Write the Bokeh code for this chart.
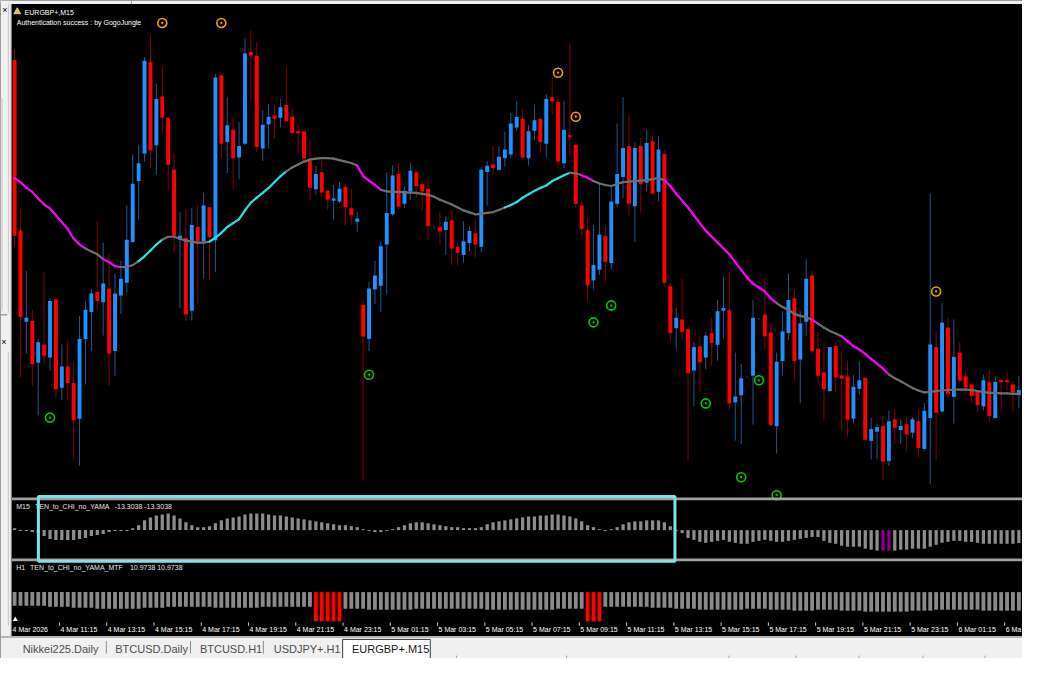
from bokeh.plotting import figure
from bokeh.models import Range1d, ColumnDataSource, Grid
from bokeh.core.properties import value
from bokeh.embed import file_html
from bokeh.resources import INLINE

# ---------------- data (EURGBP+ M15 candles, price in chart points) ----------------
open_ = [439, 264.3, 171, 171.7, 129, 147.7, 134.3, 193.7, 103.3, 125,
         108.3, 71.7, 153.3, 181, 201.7, 191, 205, 141, 197.7, 211,
         252.7, 315, 343.3, 436.7, 351.7, 401.7, 380, 326.7, 255, 256.7,
         182.3, 268.3, 253.3, 288.3, 254.3, 423.3, 355, 367.7, 339.3, 353.3,
         447.3, 443.3, 348.3, 373.3, 382.3, 380, 393, 381, 366, 366,
         335.7, 306.7, 324, 305, 295, 294, 309, 287.3, 273.3, 188.3,
         153.3, 204, 207.7, 250, 281, 322.3, 291.7, 304.3, 324, 311.7,
         307.3, 268, 268.3, 265, 275, 247.7, 239.3, 251.7, 261.7, 247.7,
         324.3, 332.3, 326.7, 338.3, 342.3, 370, 379, 338.3, 366.7, 379,
         353.3, 401, 396, 333.3, 362, 352.3, 290, 265, 213.3, 224.3,
         259, 231, 291.7, 319.3, 351, 289.3, 351, 313.3, 355.7, 304,
         342.7, 207.3, 164.3, 173.3, 163.3, 121, 145.7, 134.3, 159.3, 147.3,
         182.3, 182.7, 88.3, 95.7, 114, 115.7, 174, 178.3, 160, 64,
         130.7, 159.3, 195, 132.3, 171, 218.3, 143.3, 119, 100, 146,
         116, 115, 71.7, 102.3, 113.3, 49, 58.3, 64.3, 28.3, 71,
         60, 66, 57.3, 69, 40.7, 72.3, 145, 79, 165, 94,
         139.3, 115, 106.7, 100, 84.3, 109, 72.3, 111, 111, 106.7,
         95.7]
high = [450, 286, 223.3, 183.3, 153.3, 221.7, 195, 195, 147.7, 151.7,
        131, 176.7, 191.7, 205, 274.3, 251.7, 240, 220, 233.3, 290,
        342.3, 352.3, 441.7, 465, 415, 433.3, 380, 343.3, 283.3, 285.7,
        287.3, 290, 303.3, 288.3, 425, 425, 401, 381, 375.7, 461,
        469, 457.7, 387.7, 394.3, 392.3, 399, 432.3, 389, 374, 366,
        357.7, 330.7, 336.7, 305, 311, 314, 312.3, 306.7, 283.3, 193.3,
        211.7, 233.3, 252.3, 324, 331, 333.3, 309, 334, 325, 314.3,
        316.7, 269, 283.3, 279, 285.7, 252.3, 274, 268.3, 275, 329,
        335.7, 350.7, 350.7, 365.7, 385, 396.7, 389, 372.7, 392.7, 379,
        404, 420.7, 402.3, 397.3, 455.7, 352.3, 295, 276.7, 270, 312.3,
        270, 310, 374, 401, 382.3, 355, 359, 367.7, 362.3, 360.7,
        346.7, 211, 185, 215, 165, 150, 156.7, 160, 175, 193.3,
        216.7, 221.7, 139.3, 127.7, 115, 193.3, 175, 216.7, 168.3, 139.3,
        181.7, 220, 203.3, 181.7, 235.7, 223.3, 160, 150, 145, 150,
        141.7, 131, 116.7, 130, 114, 72.7, 65.7, 74, 80, 81,
        71, 72.7, 73.3, 81, 87.7, 302.3, 161.7, 190, 175, 173.3,
        150, 119.3, 108.3, 100, 116.7, 121.7, 115, 113.3, 119, 110,
        115]
low = [248, 114.3, 138.3, 105.7, 75, 127.7, 120.7, 93.3, 91, 90.7,
       30, 23.3, 106.7, 141, 183.3, 156.7, 105.7, 115.7, 179, 201,
       251.7, 275.7, 335, 328.3, 321.7, 365, 305, 241.7, 185, 171.7,
       172.3, 189, 215, 213.3, 221.7, 338.3, 323.3, 306.7, 316.7, 351.7,
       397.7, 345, 335.7, 348.3, 358.3, 370, 375, 361.7, 343.3, 337.7,
       296, 301, 297.7, 286, 275.7, 292.3, 269, 270, 263.3, 8.3,
       141, 189, 181, 199, 279, 285.7, 287.7, 295.7, 297.7, 285,
       254.3, 267, 250, 239.3, 229.3, 228.3, 231.7, 243.3, 236.7, 241.7,
       290, 321.7, 325.7, 330, 338.3, 366.7, 336.7, 331, 356.7, 345,
       339.3, 383.3, 328.3, 328.3, 340, 288.3, 259.3, 192.7, 204, 219,
       211, 224.3, 288.3, 297.7, 280, 252.7, 282.7, 304.3, 301.7, 294.3,
       206.7, 151, 142.7, 151, 29, 84.3, 99.3, 122.3, 125.7, 131,
       154, 80.7, 49.3, 45.7, 113, 65.7, 173, 142.7, 64, 35.7,
       115.7, 151.7, 111, 87.3, 156.7, 138.3, 108.3, 70.7, 99, 99,
       60, 53.3, 66.7, 96.7, 49, 30, 30, 8.3, 23.3, 45.7,
       45.7, 38.3, 51.7, 31.7, 38.3, 5, 29, 77.7, 93.3, 66.7,
       108.3, 97.7, 88.3, 78.3, 80, 68.3, 71.7, 79, 100, 79,
       82.3]
close = [259, 175.7, 175, 127.7, 150, 136, 192.3, 101.7, 125, 108.3,
         70, 153.3, 183.3, 200, 192.3, 210, 138.3, 200, 215, 255,
         312.3, 333.3, 438.3, 346.7, 399, 380, 331.7, 259, 259, 178.3,
         270, 253.3, 290, 257.7, 421, 353.3, 372.3, 338.3, 351, 445.7,
         444, 350, 372.7, 381, 379, 390.7, 376.3, 364.3, 364, 338.3,
         308.3, 322.3, 303.3, 296, 297.3, 307.3, 288.3, 280, 276.7, 155.7,
         205, 218.3, 248.3, 282.3, 320.7, 289, 305, 325.7, 310, 304.3,
         269, 268, 263.3, 273.3, 246, 241.7, 253.3, 264, 250, 326.7,
         330.7, 328.3, 340, 347.3, 374, 380.7, 339.3, 366, 377.3, 355,
         399, 396.7, 335, 367.7, 360, 291.7, 266, 208.3, 229, 260,
         232.3, 294, 322.3, 349, 291.7, 349, 311.7, 354, 302.3, 347.3,
         211, 159.3, 175, 160.7, 118.3, 145, 129.3, 156.7, 149.3, 181.7,
         185, 87.3, 94.3, 113, 114, 175, 174, 156, 65, 130,
         161, 193.3, 130.7, 169.3, 215, 141, 115.7, 101.7, 145, 114,
         112.7, 70.7, 104.3, 111, 50, 61, 63, 27.7, 69, 62.3,
         64.3, 55.7, 71, 41.7, 79.7, 147.7, 77.7, 170, 96.7, 135,
         110.7, 104, 95, 85.7, 111, 74.3, 109.3, 109, 109, 98.3,
         101]

# coloured moving average
ma = [318, 314, 308, 304, 297, 291, 287, 280, 273, 266,
      256, 250, 246, 243, 240, 235, 232, 228, 227, 227,
      229, 233, 238, 244, 250, 255, 258, 258, 256, 254,
      253, 252, 252, 253, 257, 262, 268, 272, 276, 285,
      293, 298, 303, 308, 314, 320, 325, 329, 332, 335,
      337, 338, 338.5, 338.5, 338, 336.5, 335, 333.5, 331, 320,
      315.5, 311, 306, 304.5, 304, 304, 303.5, 303.3, 303, 302,
      301, 299, 296, 293.5, 291, 288, 285, 283, 281, 281.5,
      282.5, 283.3, 285.5, 288, 290.5, 293.5, 298, 301.5, 305, 308,
      310.5, 315, 318, 321, 323.5, 323, 321, 318.5, 315, 312.5,
      311, 310, 312, 314, 314.5, 315, 315.5, 316, 317, 318,
      316, 310, 302, 295, 288, 280, 272, 264, 258, 252,
      246, 240, 232, 224, 216, 210, 206, 202, 195, 190,
      186, 183, 179, 177, 175.5, 173, 169, 165, 161.5, 159,
      156, 151, 146, 142.5, 138, 133, 128, 123, 117, 113,
      110, 106.5, 103, 100.5, 98.5, 99, 100, 100.5, 101, 101.5,
      101.5, 101.5, 101, 100, 99, 98, 98, 97.5, 97.5, 97,
      97]
# trend state runs of the MA colour: g = flat (grey), m = falling, c = rising
ma_state_runs = [("g", 1), ("m", 12), ("g", 3), ("m", 3), ("g", 3), ("c", 4), ("g", 8),
                 ("c", 13), ("g", 12), ("m", 4), ("g", 21), ("c", 11), ("g", 2), ("m", 2),
                 ("g", 12), ("m", 19), ("g", 6), ("m", 1), ("g", 4), ("m", 8), ("g", 22)]

# arrow signals (bar index, price)
sell_bars = [25, 35, 92, 95, 156]
sell_price = [477, 477, 426, 381, 202]
buy_bars = [6, 60, 98, 101, 117, 123, 126, 129]
buy_price = [72.7, 116.7, 170.3, 187.7, 87.3, 11.7, 111, -6.7]

# M15 TEN_to_CHI_no_YAMA histogram
osc = [2, -1, -1, -2, -3, -6, -9, -10, -10, -10,
       -10, -9, -8, -6, -5, -4, -2, -1, -1, -1,
       2, 5, 10, 13, 15, 16, 17, 15, 12, 8,
       5, 3, 3, 4, 7, 10, 12, 13, 14, 16,
       17, 17, 17, 16, 15, 15, 14, 13, 12, 11,
       10, 9, 8, 7, 6, 5, 5, 4, 3, 1,
       -1, -2, -2, -1, 1, 3, 5, 7, 8, 8,
       7, 6, 5, 4, 3, 3, 2, 2, 2, 3,
       6, 8, 9, 10, 11, 12, 13, 14, 14, 15,
       15, 16, 16, 15, 14, 12, 9, 5, 3, 1,
       -1, 1, 3, 6, 8, 9, 9, 10, 10, 10,
       8, 4, -1, -3, -8, -10, -12, -13, -12, -11,
       -10, -12, -13, -14, -14, -12, -11, -10, -11, -12,
       -12, -11, -10, -9, -8, -7, -7, -11, -13, -14,
       -16, -17, -17, -17, -19, -20, -21, -21, -21, -21,
       -20, -20, -19, -19, -19, -17, -15, -13, -12, -11,
       -11, -12, -12, -13, -14, -14, -14, -14, -14, -14,
       -13.3]
osc_purple_bars = [147, 148]

# H1 TEN_to_CHI_no_YAMA_MTF histogram (hanging bars)
mtf = [14, 14, 14, 14, 14, 14, 15, 15, 15, 15,
       16, 16, 16, 16, 17, 17, 17, 17, 17, 17,
       17, 17, 16, 16, 16, 16, 15, 15, 15, 15,
       15, 15, 15, 15, 16, 16, 16, 16, 16, 16,
       16, 16, 15, 15, 15, 15, 15, 15, 15, 15,
       15, 30, 30, 30, 30, 30, 17, 17, 17, 17,
       18, 18, 18, 18, 18, 18, 18, 18, 17, 17,
       17, 17, 17, 17, 17, 17, 17, 17, 17, 17,
       18, 18, 18, 18, 18, 18, 18, 18, 18, 18,
       18, 18, 17, 17, 17, 17, 17, 30, 30, 30,
       15, 15, 15, 15, 15, 15, 15, 15, 16, 16,
       16, 16, 17, 17, 17, 17, 18, 18, 18, 18,
       18, 18, 18, 18, 17, 17, 17, 17, 18, 18,
       18, 18, 19, 19, 19, 19, 18, 18, 18, 18,
       19, 19, 19, 19, 20, 20, 20, 20, 20, 20,
       20, 20, 19, 19, 19, 19, 18, 18, 18, 18,
       18, 18, 18, 18, 19, 19, 19, 19, 19, 19,
       19]
mtf_red_bars = [51, 52, 53, 54, 55, 97, 98, 99]

first_label = "4 Mar 2026"
tick_bars = [7, 15, 23, 31, 39, 47, 55, 63, 71, 79, 87, 95, 103, 111, 119, 127, 135, 143, 151, 159, 167]
# the last label is only partly visible at the right edge of the window
tick_labels = ["4 Mar 11:15", "4 Mar 13:15", "4 Mar 15:15", "4 Mar 17:15", "4 Mar 19:15",
               "4 Mar 21:15", "4 Mar 23:15", "5 Mar 01:15", "5 Mar 03:15", "5 Mar 05:15",
               "5 Mar 07:15", "5 Mar 09:15", "5 Mar 11:15", "5 Mar 13:15", "5 Mar 15:15",
               "5 Mar 17:15", "5 Mar 19:15", "5 Mar 21:15", "5 Mar 23:15", "6 Mar 01:15",
               "6 Ma"]
tab_names = ["Nikkei225.Daily", "BTCUSD.Daily", "BTCUSD.H1", "USDJPY+.H1", "EURGBP+.M15"]

# ---------------- layout constants (reference pixel frame) ----------------
REF_W, REF_H = 1038, 674
BAR0_PX, BAR_PX = 14.3, 6.0
PRICE_AT_TOP = 500.0
OSC_ZERO_PX = 542.5
MTF_BASE_PX = 606.0
FONT = value("Liberation Sans")

p = figure(width=1022, height=658, x_range=Range1d(0, REF_W), y_range=Range1d(REF_H, 0),
           output_backend="svg", toolbar_location=None, min_border=0,
           x_axis_location=None, y_axis_location=None,
           background_fill_color="#000000", border_fill_color="#000000",
           outline_line_color=None)
for g in p.select(type=Grid):
    g.visible = False
    g.grid_line_color = None
p.extra_x_ranges = {"bar": Range1d(-BAR0_PX / BAR_PX, (REF_W - BAR0_PX) / BAR_PX)}
p.extra_y_ranges = {
    "price": Range1d(PRICE_AT_TOP - REF_H, PRICE_AT_TOP),
    "osc": Range1d(OSC_ZERO_PX - REF_H, OSC_ZERO_PX),
    "mtf": Range1d(REF_H - MTF_BASE_PX, -MTF_BASE_PX),
}

n = len(open_)
idx = list(range(n))

# ---------------- indicator sub-windows ----------------
osc_src = ColumnDataSource(dict(
    x=idx, top=[max(v, 0) for v in osc], bottom=[min(v, 0) for v in osc],
    color=["#8B008B" if i in osc_purple_bars else "#8C8C8C" for i in idx]))
p.vbar(x="x", top="top", bottom="bottom", width=0.55, fill_color="color", line_color=None,
       source=osc_src, x_range_name="bar", y_range_name="osc")

mtf_src = ColumnDataSource(dict(
    x=idx, top=[0] * n, bottom=mtf,
    color=["#FF0000" if i in mtf_red_bars else "#8A8A8A" for i in idx]))
p.vbar(x="x", top="top", bottom="bottom", width=0.65, fill_color="color", line_color=None,
       source=mtf_src, x_range_name="bar", y_range_name="mtf")

# ---------------- candles ----------------
bull = [c >= o for o, c in zip(open_, close)]
csrc = ColumnDataSource(dict(
    x=idx, high=high, low=low,
    top=[max(o, c) for o, c in zip(open_, close)],
    bottom=[min(o, c) for o, c in zip(open_, close)],
    body=["#1E90FF" if b else "#FF0000" for b in bull],
    wick=["#1D5A92" if b else "#8B0000" for b in bull]))
p.segment(x0="x", y0="high", x1="x", y1="low", line_color="wick", line_width=1,
          source=csrc, x_range_name="bar", y_range_name="price")
p.vbar(x="x", top="top", bottom="bottom", width=0.66, fill_color="body", line_color=None,
       source=csrc, x_range_name="bar", y_range_name="price")

# ---------------- coloured MA ----------------
state = []
for s, k in ma_state_runs:
    state += [s] * k
col_map = {"g": "#6E6E6E", "m": "#FF00FF", "c": "#22E4E4"}
ma_src = ColumnDataSource(dict(x0=idx[:-1], x1=idx[1:], y0=ma[:-1], y1=ma[1:],
                               color=[col_map[s] for s in state[1:]]))
p.segment(x0="x0", y0="y0", x1="x1", y1="y1", line_color="color", line_width=2.2,
          line_cap="round", source=ma_src, x_range_name="bar", y_range_name="price")

# ---------------- signals ----------------
p.scatter(x=sell_bars, y=sell_price, marker="circle_dot", size=9, line_color="#F0A000",
          line_width=1.6, fill_color=None, x_range_name="bar", y_range_name="price")
p.scatter(x=buy_bars, y=buy_price, marker="circle_dot", size=9, line_color="#00CC00",
          line_width=1.6, fill_color=None, x_range_name="bar", y_range_name="price")

# ---------------- window chrome ----------------
p.quad(left=[11.5, 11.5], right=[REF_W, REF_W], top=[509, 571.5], bottom=[511.8, 574.3],
       fill_color="#A0A0A0", line_color=None)
p.quad(left=0, right=11.5, top=0, bottom=651, fill_color="#F0F0F0", line_color=None)
p.segment(x0=11, y0=0, x1=11, y1=651, line_color="#6A6A6A", line_width=1)
p.segment(x0=[8, 8], y0=[4, 360], x1=[8, 8], y1=[320, 640], line_color="#C8C8C8", line_width=1)
p.quad(left=0, right=2.5, top=100, bottom=318, fill_color="#D8D8D8", line_color=None)
p.segment(x0=0, y0=322, x1=7, y1=322, line_color="#7A7A7A", line_width=1)
p.quad(left=0, right=REF_W, top=0, bottom=3.5, fill_color="#F0F0F0", line_color=None)
p.segment(x0=133, y0=0, x1=133, y1=3.5, line_color="#A0A0A0")
for xx, yy in [(4.5, 10), (3.5, 350)]:
    p.text(x=[xx], y=[yy], text=["×"], text_font=FONT, text_font_size="9px",
           text_color="#000000", text_align="center", text_baseline="middle")


def label(x, y, s, size="7px", color="#FFFFFF", align="left"):
    p.text(x=[x], y=[y], text=[s], text_font=FONT, text_font_size=size, text_color=color,
           text_align=align, text_baseline="middle")


p.scatter(x=[17], y=[11.5], marker="triangle", size=7, fill_color="#E8C040",
          line_color="#FFFFFF", line_width=0.6)
label(24.5, 12.5, "EURGBP+,M15")
label(16.5, 22.5, "Authentication success : by GogoJungle")
label(16, 518.5, "M15", color="#E6E6E6")
label(35, 518.5, "TEN_to_CHI_no_YAMA", color="#E6E6E6")
label(116, 518.5, "-13.3038 -13.3038", color="#E6E6E6")
label(16, 580.5, "H1", color="#E6E6E6")
label(30, 580.5, "TEN_to_CHI_no_YAMA_MTF", color="#E6E6E6")
label(131.5, 580.5, "10.9738 10.9738", color="#E6E6E6")

# time axis
p.scatter(x=[15], y=[634], marker="triangle", size=5, fill_color="#FFFFFF", line_color=None)
tick_x = [b + 0.6 for b in tick_bars]
p.segment(x0=tick_x, y0=[637] * len(tick_x), x1=tick_x, y1=[640.5] * len(tick_x),
          line_color="#C8C8C8", x_range_name="bar")
p.text(x=tick_x, y=[644.5] * len(tick_x), text=tick_labels, text_font=FONT,
       text_font_size="7px", text_color="#FFFFFF", text_align="left",
       text_baseline="middle", x_offset=1, x_range_name="bar")
p.text(x=[0], y=[644.5], text=[first_label], text_font=FONT, text_font_size="7px",
       text_color="#FFFFFF", text_align="left", text_baseline="middle", x_offset=-2,
       x_range_name="bar")

# highlight box drawn on the screenshot
p.quad(left=38.5, right=685, top=508, bottom=574.5, fill_alpha=0,
       line_color="#7FE3E6", line_width=3)

# tab bar
p.quad(left=0, right=REF_W, top=651, bottom=REF_H, fill_color="#F0F0F0", line_color=None)
p.segment(x0=0, y0=652, x1=REF_W, y1=652, line_color="#A0A0A0", line_width=1.5)
tab_x = [22.5, 116.5, 202.5, 277.5, 357]
for name, tx in zip(tab_names[:-1], tab_x[:-1]):
    label(tx, 664, name, size="11px", color="#4E4E4E")
p.segment(x0=[107.5, 193, 267], y0=[656] * 3, x1=[107.5, 193, 267], y1=[669] * 3,
          line_color="#8C8C8C", line_width=1)
p.quad(left=347.5, right=436.5, top=654.5, bottom=REF_H + 2, fill_color="#FFFFFF",
       line_color="#3A3A3A", line_width=1)
label(tab_x[-1], 664, tab_names[-1], size="11px", color="#1A1A1A")
sx = [463, 575, 740, 808, 872, 937, 1000]
p.segment(x0=sx, y0=[671] * len(sx), x1=sx, y1=[674] * len(sx), line_color="#A0A0A0")

open("out.html", "w").write(file_html(p, INLINE))
